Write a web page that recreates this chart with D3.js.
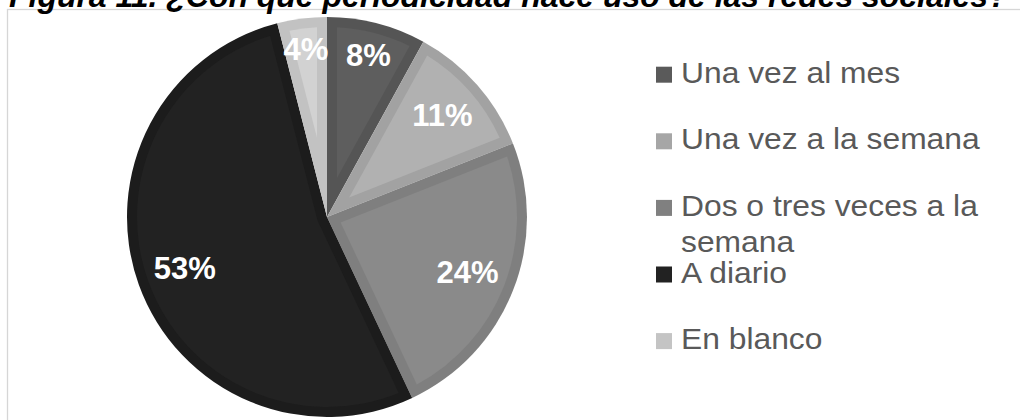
<!DOCTYPE html>
<html>
<head>
<meta charset="utf-8">
<script src="https://cdn.jsdelivr.net/npm/d3@7"></script>
<style>
  html, body { margin: 0; padding: 0; background: #fff; }
  svg { display: block; }
</style>
</head>
<body>
<svg id="chart" width="1020" height="420"></svg>
<script>
// Survey answers: how often social networks are used (percent of respondents)
const categories = ["Una vez al mes", "Una vez a la semana", "Dos o tres veces a la semana", "A diario", "En blanco"];
const values = [8, 11, 24, 53, 4];
const legendLines = [["Una vez al mes"], ["Una vez a la semana"], ["Dos o tres veces a la", "semana"], ["A diario"], ["En blanco"]];
const title = "Figura 11. ¿Con qué periodicidad hace uso de las redes sociales?";

// Bevelled slice fills: edge tone and face tone
const edgeColors = ["#555555", "#a2a2a2", "#7f7f7f", "#1c1c1c", "#c2c2c2"];
const faceColors = ["#5e5e5e", "#b1b1b1", "#8a8a8a", "#222222", "#d2d2d2"];
const swatchColors = ["#5a5a5a", "#a6a6a6", "#808080", "#222222", "#c4c4c4"];

const svg = d3.select("#chart");
const W = 1020, H = 420;

// Chart frame (runs off the right and bottom edges)
svg.append("rect")
  .attr("x", 7.5).attr("y", 9.5)
  .attr("width", W + 20).attr("height", H + 20)
  .attr("fill", "none").attr("stroke", "#d6d6d6").attr("stroke-width", 1.3);

// Title, sized to span the frame width
const titleText = svg.append("text")
  .attr("x", 9).attr("y", 6.5)
  .attr("font-family", "Liberation Sans, Arial, sans-serif")
  .attr("font-weight", "bold").attr("font-style", "italic")
  .attr("font-size", 26).attr("fill", "#000")
  .text(title);
const tw = titleText.node().getComputedTextLength();
titleText.attr("font-size", 26 * 999 / tw);

// Pie
const cx = 327, cy = 217, R = 200, bevel = 10;
const pie = d3.pie().sort(null).value(d => d);
const arcs = pie(values);
const arcGen = d3.arc().innerRadius(0).outerRadius(R);

const g = svg.append("g").attr("transform", `translate(${cx},${cy})`);

g.selectAll("path.edge").data(arcs).join("path")
  .attr("class", "edge")
  .attr("d", arcGen)
  .attr("fill", (d, i) => edgeColors[i]);

// Inset face of each slice: edges offset inward by the bevel width
function insetSlice(d) {
  const a0 = d.startAngle, a1 = d.endAngle;
  const h = (a1 - a0) / 2, mid = (a0 + a1) / 2;
  const ro = R - bevel;
  const da = Math.asin(bevel / ro);
  const apexDist = bevel / Math.sin(h);
  const p = d3.path();
  p.moveTo(apexDist * Math.sin(mid), -apexDist * Math.cos(mid));
  p.lineTo(ro * Math.sin(a0 + da), -ro * Math.cos(a0 + da));
  p.arc(0, 0, ro, a0 + da - Math.PI / 2, a1 - da - Math.PI / 2, false);
  p.closePath();
  return p.toString();
}

g.selectAll("path.face").data(arcs).join("path")
  .attr("class", "face")
  .attr("d", insetSlice)
  .attr("fill", (d, i) => faceColors[i]);

// Percentage labels placed at the inside end of each slice
const labelReach = 184;
g.selectAll("text.pct").data(arcs).join("text")
  .attr("class", "pct")
  .attr("font-family", "Liberation Sans, Arial, sans-serif")
  .attr("font-weight", "bold").attr("font-size", 31)
  .attr("fill", "#fff").attr("text-anchor", "middle")
  .attr("dominant-baseline", "central")
  .text(d => d.data + "%")
  .each(function (d) {
    const w = this.getComputedTextLength(), hgt = 22;
    const mid = (d.startAngle + d.endAngle) / 2;
    const ux = Math.sin(mid), uy = -Math.cos(mid);
    const B = Math.abs(ux) * w + Math.abs(uy) * hgt;
    const C = (w * w + hgt * hgt) / 4 - labelReach * labelReach;
    const dist = (-B + Math.sqrt(B * B - 4 * C)) / 2;
    d3.select(this).attr("x", dist * ux).attr("y", dist * uy);
  });

// Legend
const legendX = 656, legendTop = 82.7, legendStep = 66.6, sw = 16;
const legendTextX = 25, legendStretch = 1.06;
const legend = svg.append("g");
const items = legend.selectAll("g").data(categories).join("g")
  .attr("transform", (d, i) => `translate(${legendX},${legendTop + i * legendStep})`);
items.append("rect")
  .attr("x", 0).attr("y", -sw).attr("width", sw).attr("height", sw)
  .attr("fill", (d, i) => swatchColors[i]);
items.append("text")
  .attr("transform", `translate(${legendTextX},0) scale(${legendStretch},1)`)
  .attr("font-family", "Liberation Sans, Arial, sans-serif")
  .attr("font-size", 30).attr("fill", "#595959")
  .selectAll("tspan").data((d, i) => legendLines[i]).join("tspan")
  .attr("x", 0).attr("dy", (d, j) => j === 0 ? 0 : 36)
  .text(d => d);
</script>
</body>
</html>
